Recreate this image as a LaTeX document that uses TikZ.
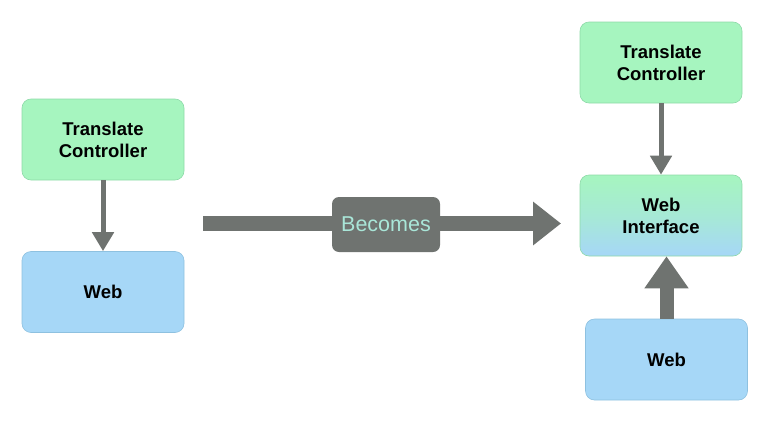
\documentclass[tikz,border=0pt]{standalone}
\usepackage{fontspec}
\setmainfont{Liberation Sans}
\usetikzlibrary{arrows.meta}
\definecolor{boxgreen}{HTML}{A6F5BF}
\definecolor{boxblue}{HTML}{A6D7F7}
\definecolor{edgegreen}{HTML}{8ED9A8}
\definecolor{edgeblue}{HTML}{8EC1E0}
\definecolor{arrgray}{HTML}{6F7370}
\definecolor{teal}{HTML}{A9E6D8}
\begin{document}
\begin{tikzpicture}[x=1pt,y=-1pt,
  box/.style={rounded corners=9pt,minimum width=162pt,minimum height=81pt,align=center,
    font=\fontsize{18.5}{22}\selectfont\bfseries,text=black,line width=0.6pt},
  gbox/.style={box,fill=boxgreen,draw=edgegreen},
  bbox/.style={box,fill=boxblue,draw=edgeblue},
  thin/.style={draw=arrgray,line width=5pt,-{Triangle[width=21pt,length=19pt]}},
  thick/.style={draw=arrgray,line width=14pt,-{Triangle[width=42pt,length=32pt]}}]
\useasboundingbox (0,0) rectangle (770,423);
\node[gbox] (tc1) at (103,139.5) {Translate\\Controller};
\node[bbox] (web1) at (103,292) {Web};
\draw[thin] (tc1.south) -- (web1.north);

\node[gbox] (tc2) at (661,62.5) {Translate\\Controller};
\node[box,draw=edgegreen,top color=boxgreen,bottom color=boxblue,middle color=boxgreen!60!boxblue] (wi) at (661,215.5) {Web\\Interface};
\node[bbox] (web2) at (666.5,359.5) {Web};
\draw[thin] (tc2.south) -- (wi.north);
\draw[thick] (web2.north) -- (web2.north |- wi.south);

\coordinate (bs) at (203,223.5);
\coordinate (be) at (561,223.5);
\draw[draw=arrgray,line width=15pt,-{Triangle[width=42pt,length=28pt]}] (bs) -- (be);
\node[fill=arrgray,rounded corners=7pt,minimum width=108pt,minimum height=55pt,
  text=teal,font=\fontsize{21.5}{24}\selectfont] (bec) at (386,224.5) {Becomes};
\end{tikzpicture}
\end{document}
